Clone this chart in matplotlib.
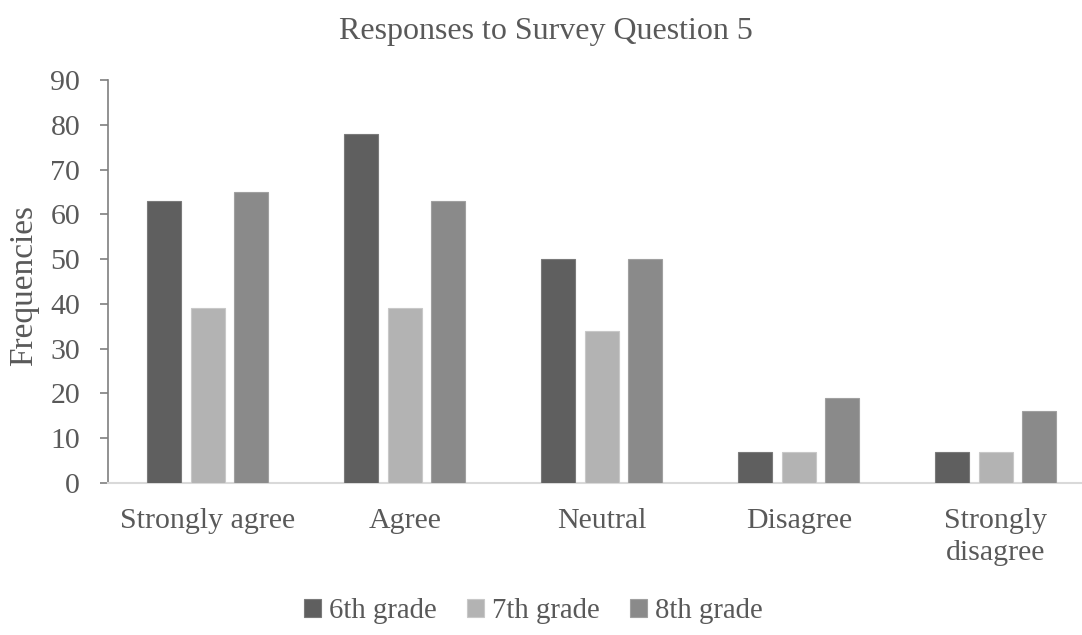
import matplotlib
matplotlib.use("Agg")
import matplotlib.pyplot as plt
import numpy as np

categories = ["Strongly agree", "Agree", "Neutral", "Disagree", "Strongly\ndisagree"]
grade6 = [63, 78, 50, 7, 7]
grade7 = [39, 39, 34, 7, 7]
grade8 = [65, 63, 50, 19, 16]
series_names = ["6th grade", "7th grade", "8th grade"]
colors = ["#5f5f5f", "#b3b3b3", "#8a8a8a"]
edge_colors = ["#7a7a7a", "#c8c8c8", "#a0a0a0"]

plt.rcParams["font.family"] = ["Liberation Serif", "DejaVu Serif"]
text_color = "#595959"

fig = plt.figure(figsize=(10.82, 6.35), dpi=100)
ax = fig.add_axes([108 / 1082, (635 - 483) / 635, 1 - 108 / 1082, (483 - 80) / 635])

x = np.arange(len(categories))
width = 0.173
step = 0.222
for i, (vals, name) in enumerate(zip([grade6, grade7, grade8], series_names)):
    ax.bar(x + (i - 1) * step, vals, width, color=colors[i], edgecolor=edge_colors[i],
           linewidth=0.8, label=name, zorder=3)

ax.set_ylim(0, 90)
ax.set_xlim(-0.506, 4.438)
ax.set_yticks(range(0, 91, 10))
ax.set_xticks(x)
ax.set_xticklabels(categories, fontsize=21.5, color=text_color, linespacing=1.3)
ax.tick_params(axis="x", length=0, pad=18)
ax.tick_params(axis="y", length=6, width=1.2, color="#7f7f7f", labelsize=21.5,
               labelcolor=text_color, pad=14, direction="out")

for s in ["top", "right"]:
    ax.spines[s].set_visible(False)
ax.spines["left"].set_color("#7f7f7f")
ax.spines["left"].set_linewidth(1.2)
ax.spines["bottom"].set_color("#d9d9d9")
ax.spines["bottom"].set_linewidth(1.5)

fig.text(24 / 1082, 1 - 285 / 635, "Frequencies", rotation=90, ha="center", va="center",
         fontsize=24, color=text_color)

fig.text(546 / 1082, 1 - 31 / 635, "Responses to Survey Question 5", ha="center", va="center",
         fontsize=23, color=text_color)

leg = fig.legend(loc="center", bbox_to_anchor=(533 / 1082, 1 - 611 / 635), ncol=3, frameon=False,
                 fontsize=20.7, handlelength=0.62, handleheight=0.62, handletextpad=0.25,
                 columnspacing=1.05, labelcolor=text_color)

fig.savefig("out.png", dpi=100)
